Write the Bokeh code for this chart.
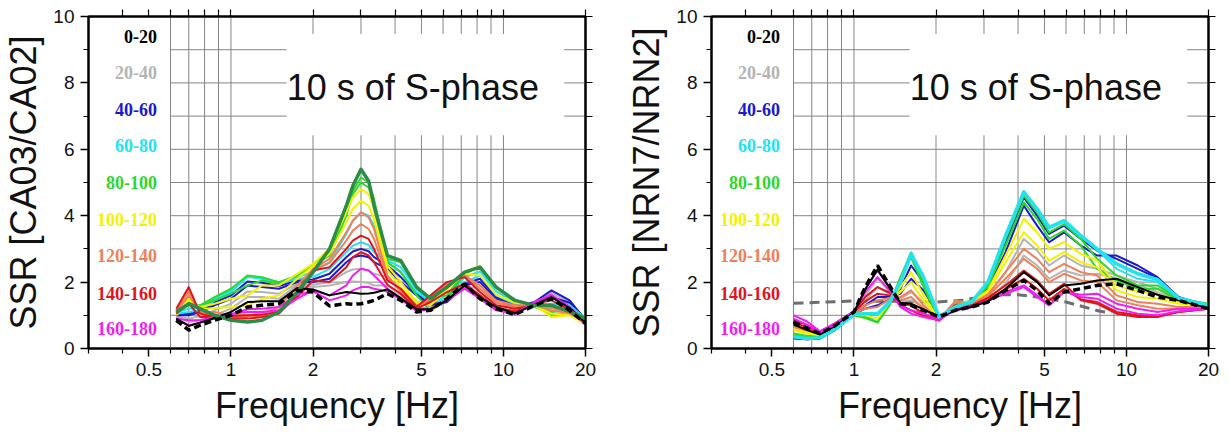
from bokeh.plotting import figure
from bokeh.layouts import row
from bokeh.models import Range1d, FixedTicker, LogAxis, LinearAxis, NumeralTickFormatter
from bokeh.embed import file_html
from bokeh.resources import INLINE
from bokeh.core.properties import value

# ---------------- data: CA03/CA02 (left panel) ----------------
freq_ca = [0.63, 0.70, 0.77, 0.87, 1.0, 1.15, 1.3, 1.5, 1.75, 2.0, 2.3, 2.65, 2.8, 3.0, 3.2, 3.35,
           3.75, 4.2, 4.8, 5.4, 6.2, 7.2, 8.2, 9.4, 11.0, 13.0, 15.0, 17.5, 20.0]

ca_az005 = [.85, .55, .7, .85, 1.0, 1.25, 1.3, 1.35, 1.75, 1.7, 1.28, 1.35, 1.33, 1.35, 1.4, 1.45, 1.65, 1.45, 1.1, 1.15, 1.5, 1.95, 1.5, 1.2, 1.02, 1.3, 1.5, 1.15, .75]
ca_az015 = [.9, .68, .78, .92, 1.1, 1.4, 1.42, 1.42, 1.82, 1.78, 1.6, 1.7, 1.68, 1.65, 1.66, 1.68, 1.78, 1.52, 1.18, 1.18, 1.45, 1.9, 1.55, 1.25, 1.06, 1.32, 1.55, 1.22, .78]
ca_az025 = [.95, .8, .85, 1.0, 1.2, 1.55, 1.55, 1.5, 1.9, 1.85, 1.9, 2.0, 2.02, 2.0, 1.97, 1.9, 1.9, 1.6, 1.25, 1.2, 1.4, 1.85, 1.6, 1.3, 1.1, 1.35, 1.6, 1.3, .8]
ca_az035 = [.98, .9, .98, 1.15, 1.35, 1.72, 1.7, 1.65, 1.95, 1.92, 2.0, 2.3, 2.38, 2.4, 2.35, 2.25, 2.15, 1.8, 1.42, 1.25, 1.4, 1.88, 1.8, 1.4, 1.18, 1.38, 1.68, 1.38, .82]
ca_az045 = [1.0, 1.0, 1.1, 1.3, 1.5, 1.9, 1.85, 1.8, 2.0, 2.0, 2.1, 2.6, 2.75, 2.8, 2.75, 2.6, 2.4, 2.0, 1.6, 1.3, 1.4, 1.9, 2.0, 1.5, 1.25, 1.4, 1.75, 1.45, .85]
ca_az055 = [1.02, 1.05, 1.12, 1.38, 1.6, 2.02, 1.98, 1.88, 2.05, 2.08, 2.25, 2.75, 2.92, 3.0, 2.93, 2.75, 2.5, 2.15, 1.65, 1.35, 1.42, 1.95, 2.1, 1.55, 1.3, 1.35, 1.55, 1.38, .88]
ca_az065 = [1.05, 1.1, 1.15, 1.45, 1.7, 2.15, 2.1, 1.95, 2.1, 2.15, 2.4, 2.9, 3.1, 3.2, 3.12, 2.9, 2.6, 2.3, 1.7, 1.4, 1.45, 2.0, 2.2, 1.6, 1.35, 1.3, 1.35, 1.3, .9]
ca_az075 = [1.08, 1.2, 1.22, 1.5, 1.75, 2.18, 2.12, 1.98, 2.15, 2.3, 2.6, 3.45, 3.85, 4.1, 4.0, 3.7, 2.65, 2.45, 1.78, 1.45, 1.52, 2.15, 2.32, 1.72, 1.42, 1.28, 1.22, 1.22, .92]
ca_az085 = [1.1, 1.3, 1.3, 1.55, 1.8, 2.2, 2.15, 2.0, 2.2, 2.5, 2.8, 4.0, 4.75, 5.15, 5.0, 4.5, 2.7, 2.6, 1.85, 1.5, 1.6, 2.3, 2.45, 1.85, 1.48, 1.25, 1.1, 1.15, .95]
ca_az095 = [1.05, 1.38, 1.28, 1.45, 1.65, 1.9, 2.05, 1.95, 2.22, 2.52, 2.9, 4.05, 4.65, 5.0, 4.85, 4.4, 2.6, 2.3, 1.6, 1.12, 1.5, 2.25, 2.48, 1.82, 1.46, 1.28, 1.02, 1.08, .85]
ca_az105 = [1.0, 1.45, 1.25, 1.35, 1.5, 1.6, 1.9, 1.9, 2.25, 2.55, 3.0, 4.1, 4.55, 4.8, 4.65, 4.2, 2.5, 2.0, 1.4, 1.3, 1.75, 2.3, 2.5, 1.8, 1.45, 1.3, .95, 1.0, .75]
ca_az115 = [1.05, 1.52, 1.18, 1.22, 1.25, 1.3, 1.5, 1.6, 2.1, 2.48, 2.85, 3.8, 4.2, 4.45, 4.3, 3.9, 2.35, 1.85, 1.35, 1.35, 1.8, 2.25, 2.2, 1.62, 1.38, 1.3, 1.05, 1.02, .78]
ca_az125 = [1.1, 1.6, 1.1, 1.1, 1.0, 1.0, 1.05, 1.25, 1.9, 2.4, 2.7, 3.5, 3.85, 4.1, 3.95, 3.6, 2.2, 1.7, 1.3, 1.45, 1.85, 2.2, 1.9, 1.45, 1.3, 1.3, 1.15, 1.05, .8]
ca_az135 = [1.15, 1.72, 1.08, 1.02, .95, .95, 1.0, 1.15, 1.75, 2.38, 2.58, 3.25, 3.55, 3.75, 3.6, 3.3, 2.12, 1.75, 1.28, 1.52, 1.92, 2.18, 1.8, 1.38, 1.25, 1.3, 1.22, 1.08, .78]
ca_az145 = [1.2, 1.85, 1.05, .95, .9, .9, .95, 1.05, 1.6, 2.35, 2.45, 3.0, 3.25, 3.4, 3.3, 3.0, 2.05, 1.8, 1.25, 1.6, 2.0, 2.15, 1.7, 1.3, 1.2, 1.3, 1.3, 1.1, .75]
ca_az155 = [1.05, 1.35, .95, .95, .98, 1.0, 1.02, 1.1, 1.55, 2.05, 2.0, 2.45, 2.75, 2.9, 2.8, 2.6, 1.92, 1.65, 1.2, 1.4, 1.7, 1.95, 1.6, 1.22, 1.12, 1.35, 1.45, 1.18, .78]
ca_az165 = [.9, .85, .85, .95, 1.05, 1.1, 1.1, 1.15, 1.5, 1.75, 1.6, 1.9, 2.2, 2.4, 2.35, 2.2, 1.8, 1.5, 1.15, 1.2, 1.45, 1.8, 1.5, 1.15, 1.05, 1.4, 1.62, 1.25, .8]
ca_az175 = [.88, .7, .78, .9, 1.02, 1.18, 1.2, 1.25, 1.62, 1.72, 1.45, 1.6, 1.75, 1.85, 1.85, 1.8, 1.72, 1.48, 1.12, 1.18, 1.48, 1.88, 1.5, 1.18, 1.03, 1.35, 1.56, 1.2, .78]
ca_bold_green = [1.1, 1.35, 1.2, 1.0, .85, .8, .85, 1.1, 1.7, 2.3, 3.0, 4.3, 4.9, 5.4, 5.05, 4.3, 2.8, 2.65, 1.85, 1.5, 1.85, 2.3, 2.45, 1.85, 1.45, 1.3, 1.3, 1.12, .9]

# ---------------- data: NRN7/NRN2 (right panel) ----------------
freq_nrn = [0.6, 0.67, 0.75, 0.85, 1.0, 1.1, 1.22, 1.35, 1.48, 1.62, 1.8, 2.05, 2.35, 2.7,
            3.1, 3.6, 4.2, 4.7, 5.2, 5.9, 6.8, 7.8, 9.2, 11.0, 13.0, 15.5, 20.0]

nrn_az005 = [.8, .62, .45, .68, 1.1, 1.85, 2.5, 1.9, 1.35, 1.3, 1.15, .95, 1.15, 1.25, 1.4, 1.75, 2.05, 1.75, 1.35, 1.7, 1.8, 1.9, 1.95, 1.75, 1.55, 1.45, 1.2]
nrn_az015 = [.72, .56, .42, .65, 1.08, 1.78, 2.38, 1.82, 1.38, 1.35, 1.18, .95, 1.15, 1.25, 1.42, 1.8, 2.3, 2.0, 1.6, 1.9, 1.95, 2.05, 2.1, 1.85, 1.62, 1.45, 1.22]
nrn_az025 = [.6, .48, .38, .62, 1.06, 1.6, 2.1, 1.72, 1.42, 1.45, 1.25, .95, 1.15, 1.28, 1.48, 1.95, 2.8, 2.5, 2.1, 2.35, 2.2, 2.25, 2.1, 1.9, 1.7, 1.45, 1.22]
nrn_az035 = [.45, .38, .34, .6, 1.05, 1.45, 1.85, 1.65, 1.5, 1.7, 1.4, .97, 1.18, 1.3, 1.6, 2.3, 3.3, 2.95, 2.5, 2.8, 2.5, 2.4, 2.2, 2.0, 1.8, 1.48, 1.25]
nrn_az045 = [.3, .28, .3, .55, 1.05, 1.3, 1.55, 1.55, 1.65, 2.1, 1.75, 1.0, 1.2, 1.32, 1.8, 2.9, 4.3, 3.7, 3.2, 3.5, 3.1, 2.8, 2.8, 2.5, 2.15, 1.55, 1.25]
nrn_az055 = [.32, .28, .3, .56, 1.04, 1.2, 1.3, 1.48, 1.8, 2.5, 2.0, .98, 1.22, 1.35, 1.9, 3.2, 4.55, 4.0, 3.45, 3.7, 3.3, 2.95, 2.7, 2.4, 2.12, 1.55, 1.28]
nrn_az065 = [.35, .3, .32, .58, 1.03, 1.05, 1.05, 1.4, 2.0, 2.85, 2.15, .95, 1.25, 1.4, 2.0, 3.4, 4.72, 4.2, 3.65, 3.85, 3.4, 3.0, 2.55, 2.25, 2.08, 1.52, 1.3]
nrn_az075 = [.38, .32, .34, .6, 1.02, .98, .9, 1.35, 2.1, 2.9, 2.1, .9, 1.3, 1.42, 1.98, 3.35, 4.7, 4.22, 3.62, 3.82, 3.38, 2.98, 2.4, 2.1, 2.0, 1.5, 1.32]
nrn_az085 = [.4, .34, .36, .62, 1.0, .92, .78, 1.3, 2.15, 2.88, 2.0, .88, 1.35, 1.42, 1.95, 3.3, 4.6, 4.1, 3.5, 3.75, 3.3, 2.7, 2.2, 1.9, 1.9, 1.5, 1.35]
nrn_az095 = [.45, .38, .38, .64, 1.0, .95, .8, 1.32, 2.05, 2.75, 1.85, .86, 1.38, 1.42, 1.85, 3.1, 4.4, 3.9, 3.3, 3.55, 3.1, 2.4, 2.05, 1.8, 1.8, 1.45, 1.32]
nrn_az105 = [.55, .45, .4, .66, 1.02, 1.0, .9, 1.38, 1.85, 2.3, 1.6, .85, 1.4, 1.4, 1.75, 2.8, 3.9, 3.5, 3.0, 3.2, 2.85, 2.65, 1.9, 1.7, 1.65, 1.4, 1.3]
nrn_az115 = [.6, .5, .42, .68, 1.04, 1.08, 1.05, 1.42, 1.7, 2.0, 1.45, .85, 1.42, 1.38, 1.7, 2.6, 3.5, 3.1, 2.65, 2.9, 2.6, 2.45, 1.75, 1.55, 1.5, 1.35, 1.28]
nrn_az125 = [.65, .55, .44, .7, 1.06, 1.2, 1.25, 1.48, 1.55, 1.75, 1.3, .86, 1.42, 1.35, 1.62, 2.3, 3.0, 2.7, 2.3, 2.55, 2.3, 2.2, 1.6, 1.4, 1.35, 1.25, 1.25]
nrn_az135 = [.7, .6, .46, .72, 1.08, 1.3, 1.45, 1.52, 1.45, 1.55, 1.2, .86, 1.4, 1.32, 1.58, 2.1, 2.7, 2.4, 2.0, 2.25, 2.05, 2.0, 1.45, 1.3, 1.2, 1.2, 1.22]
nrn_az145 = [.78, .65, .48, .74, 1.1, 1.42, 1.65, 1.6, 1.35, 1.3, 1.05, .85, 1.3, 1.3, 1.52, 1.9, 2.35, 2.05, 1.65, 1.95, 1.45, 1.35, 1.05, .95, .95, 1.1, 1.2]
nrn_az155 = [.85, .72, .5, .75, 1.12, 1.55, 1.85, 1.68, 1.3, 1.15, .98, .84, 1.22, 1.28, 1.48, 1.78, 2.1, 1.8, 1.45, 1.8, 1.48, 1.4, 1.1, 1.0, .98, 1.1, 1.2]
nrn_az165 = [1.0, .82, .52, .76, 1.12, 1.7, 2.15, 1.75, 1.25, 1.05, .95, .85, 1.18, 1.25, 1.45, 1.65, 1.85, 1.55, 1.3, 1.72, 1.55, 1.5, 1.2, 1.05, 1.0, 1.12, 1.2]
nrn_az175 = [.9, .72, .48, .72, 1.1, 1.8, 2.35, 1.85, 1.3, 1.15, 1.05, .9, 1.15, 1.25, 1.42, 1.7, 1.9, 1.6, 1.3, 1.7, 1.62, 1.65, 1.35, 1.2, 1.1, 1.2, 1.2]

ref_freq = [0.6, 1.0, 1.5, 2.0, 2.5, 3.2, 4.0, 5.0, 6.0, 7.0, 8.0, 8.8]
ref_ssr = [1.36, 1.43, 1.42, 1.4, 1.45, 1.62, 1.62, 1.52, 1.4, 1.25, 1.12, 1.08]

# ---------------- categories / labels ----------------
azimuths = [5, 15, 25, 35, 45, 55, 65, 75, 85, 95, 105, 115, 125, 135, 145, 155, 165, 175]
bin_labels = ["0-20", "20-40", "40-60", "60-80", "80-100", "100-120", "120-140", "140-160", "160-180"]
bin_colors = ["#000000", "#b4b4b4", "#1a1acd", "#22e2f0", "#2ed62e", "#f2f200", "#f0805a", "#e0141e", "#f01ef0"]
legend_y = [9.4, 8.3, 7.2, 6.1, 5.0, 3.9, 2.8, 1.65, 0.6]
legend_x = 0.535
title_text = "10 s of S-phase"
title_pos = (4.65, 7.85)
title_box = (1.6, 16.7, 6.42, 9.47)

x_major = [0.5, 1, 2, 5, 10, 20]
x_minor = [0.3, 0.4, 0.6, 0.7, 0.8, 0.9, 3, 4, 6, 7, 8, 9]
x_top = [0.4, 0.5, 0.6, 0.7, 0.8, 0.9, 1, 2, 3, 4, 5, 6, 7, 8, 9, 10, 20]
y_major = [0, 2, 4, 6, 8, 10]
y_minor = [1, 3, 5, 7, 9]
y_right = [0, 1, 2, 3, 4, 5, 6, 7, 8, 9, 10]
grid_x = [0.6, 0.7, 0.8, 0.9, 1, 2, 3, 4, 5, 6, 7, 8, 9, 10]
grid_y = [1, 2, 3, 4, 5, 6, 7, 8, 9]

ca_curves = [ca_az005, ca_az015, ca_az025, ca_az035, ca_az045, ca_az055, ca_az065, ca_az075, ca_az085,
             ca_az095, ca_az105, ca_az115, ca_az125, ca_az135, ca_az145, ca_az155, ca_az165, ca_az175]
nrn_curves = [nrn_az005, nrn_az015, nrn_az025, nrn_az035, nrn_az045, nrn_az055, nrn_az065, nrn_az075, nrn_az085,
              nrn_az095, nrn_az105, nrn_az115, nrn_az125, nrn_az135, nrn_az145, nrn_az155, nrn_az165, nrn_az175]

FONT = "Liberation Sans"


def make_panel(ylabel, right_border):
    p = figure(x_axis_type="log", x_range=Range1d(0.3, 20), y_range=Range1d(0, 10),
               frame_width=497, frame_height=332, min_border_left=88, min_border_right=right_border,
               min_border_top=16, min_border_bottom=87, toolbar_location=None, output_backend="svg",
               background_fill_color="white", border_fill_color="white")
    p.xgrid.visible = False
    p.ygrid.visible = False
    p.outline_line_color = "black"
    p.outline_line_width = 2

    xa = p.xaxis[0]
    xa.ticker = FixedTicker(ticks=x_major, minor_ticks=x_minor)
    xa.formatter = NumeralTickFormatter(format="0.[0]")
    ya = p.yaxis[0]
    ya.ticker = FixedTicker(ticks=y_major, minor_ticks=y_minor)
    for ax in (xa, ya):
        ax.axis_line_width = 2
        ax.major_tick_out = 8
        ax.major_tick_in = 0
        ax.minor_tick_out = 5
        ax.minor_tick_in = 0
        ax.major_tick_line_width = 1.5
        ax.minor_tick_line_width = 1.2
        ax.major_label_text_font = FONT
        ax.major_label_text_font_size = "19px"
        ax.major_label_text_color = "#111111"
        ax.major_label_standoff = 6
        ax.axis_label_text_font = FONT
        ax.axis_label_text_font_size = "36px"
        ax.axis_label_text_font_style = "normal"
        ax.axis_label_text_color = "#111111"
    xa.axis_label = "Frequency [Hz]"
    xa.axis_label_standoff = 6
    ya.axis_label = ylabel
    ya.axis_label_standoff = 6

    top = LogAxis(ticker=FixedTicker(ticks=[], minor_ticks=x_top), axis_line_width=2,
                  minor_tick_out=7, minor_tick_in=0, minor_tick_line_width=1.2)
    p.add_layout(top, "above")
    rgt = LinearAxis(ticker=FixedTicker(ticks=[], minor_ticks=y_right), axis_line_width=2,
                     minor_tick_out=7, minor_tick_in=0, minor_tick_line_width=1.2)
    p.add_layout(rgt, "right")

    # grid
    p.segment(x0=grid_x, y0=[0] * len(grid_x), x1=grid_x, y1=[10] * len(grid_x),
              line_color="#858585", line_width=1)
    p.segment(x0=[0.6] * len(grid_y), y0=grid_y, x1=[20] * len(grid_y), y1=grid_y,
              line_color="#858585", line_width=1)
    # title box
    p.quad(left=[title_box[0]], right=[title_box[1]], bottom=[title_box[2]], top=[title_box[3]],
           fill_color="white", line_color=None)
    p.text(x=[title_pos[0]], y=[title_pos[1]], text=[title_text], text_font=value(FONT),
           text_font_size="36px", text_align="center", text_baseline="middle", text_color="#111111")
    # legend labels
    p.text(x=[legend_x] * len(bin_labels), y=legend_y, text=bin_labels, text_color=bin_colors,
           text_font=value("Liberation Serif"), text_font_style="bold", text_font_size="18px",
           text_align="right", text_baseline="middle")
    return p


def draw_curves(p, freq, curves):
    order = list(range(2, 18)) + [1]
    for i in order:
        col = bin_colors[azimuths[i] // 20]
        p.line(freq, curves[i], line_color=col, line_width=2.0, line_join="round")


p1 = make_panel("SSR [CA03/CA02]", 38)
draw_curves(p1, freq_ca, ca_curves)
p1.line(freq_ca, ca_bold_green, line_color="#2a8c46", line_width=3.5, line_join="round")
p1.line(freq_ca, ca_curves[0], line_color="black", line_width=3.5, line_dash="7 4")

p2 = make_panel("SSR [NRN7/NRN2]", 21)
p2.line(ref_freq, ref_ssr, line_color="#6e6e6e", line_width=3, line_dash="10 6")
draw_curves(p2, freq_nrn, nrn_curves)
p2.line(freq_nrn, nrn_curves[6], line_color=bin_colors[3], line_width=3.5, line_join="round")
p2.line(freq_nrn, nrn_curves[0], line_color="black", line_width=3.5, line_dash="7 4")

layout = row(p1, p2)
open("out.html", "w").write(file_html(layout, INLINE))
